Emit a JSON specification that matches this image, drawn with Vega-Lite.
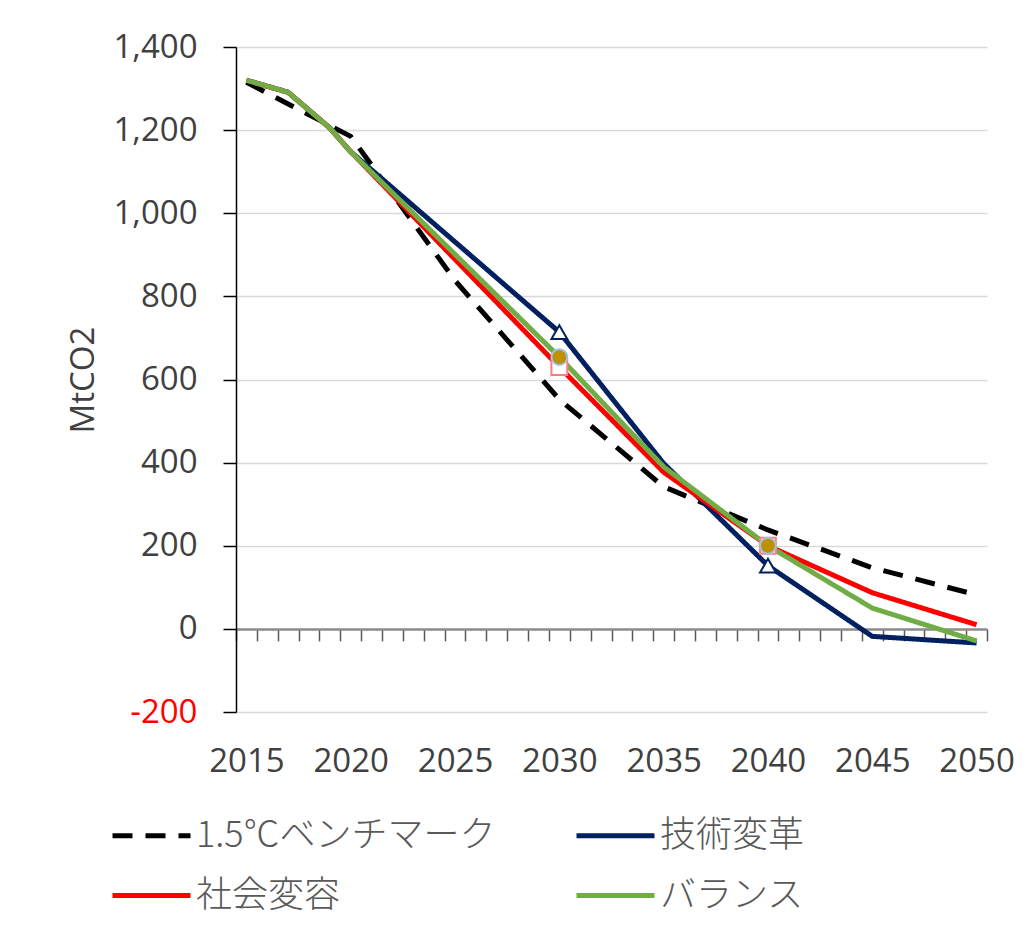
{
  "$schema": "https://vega.github.io/schema/vega-lite/v6.json",
  "width": 751,
  "height": 665,
  "autosize": {"type": "none"},
  "padding": {"left": 236, "top": 47, "right": 45, "bottom": 213},
  "background": "white",
  "config": {
    "view": {"stroke": null},
    "font": "Open Sans",
    "legend": {
      "orient": "none",
      "legendX": -126,
      "legendY": 747,
      "columns": 2,
      "direction": "horizontal",
      "symbolType": "stroke",
      "symbolSize": 6084,
      "symbolStrokeWidth": 5,
      "labelFont": "Noto Sans CJK JP",
      "labelFontWeight": 300,
      "labelFontSize": 36,
      "labelColor": "#595959",
      "labelOffset": 3,
      "labelLimit": 0,
      "rowPadding": -16,
      "columnPadding": 70,
      "padding": 0,
      "title": null
    }
  },
  "data": {
    "values": [
      {"series": "1.5℃ベンチマーク", "year": 2015, "value": 1315},
      {"series": "1.5℃ベンチマーク", "year": 2020, "value": 1185},
      {"series": "1.5℃ベンチマーク", "year": 2025, "value": 838},
      {"series": "1.5℃ベンチマーク", "year": 2030, "value": 552},
      {"series": "1.5℃ベンチマーク", "year": 2035, "value": 342},
      {"series": "1.5℃ベンチマーク", "year": 2040, "value": 238},
      {"series": "1.5℃ベンチマーク", "year": 2045, "value": 147},
      {"series": "1.5℃ベンチマーク", "year": 2050, "value": 82},
      {"series": "技術変革", "year": 2015, "value": 1320},
      {"series": "技術変革", "year": 2017, "value": 1291},
      {"series": "技術変革", "year": 2019, "value": 1205},
      {"series": "技術変革", "year": 2020, "value": 1148},
      {"series": "技術変革", "year": 2030, "value": 714},
      {"series": "技術変革", "year": 2035, "value": 398},
      {"series": "技術変革", "year": 2040, "value": 152},
      {"series": "技術変革", "year": 2045, "value": -18},
      {"series": "技術変革", "year": 2050, "value": -34},
      {"series": "社会変容", "year": 2015, "value": 1320},
      {"series": "社会変容", "year": 2017, "value": 1291},
      {"series": "社会変容", "year": 2019, "value": 1205},
      {"series": "社会変容", "year": 2020, "value": 1148},
      {"series": "社会変容", "year": 2030, "value": 630},
      {"series": "社会変容", "year": 2035, "value": 377},
      {"series": "社会変容", "year": 2040, "value": 200},
      {"series": "社会変容", "year": 2045, "value": 87},
      {"series": "社会変容", "year": 2050, "value": 10},
      {"series": "バランス", "year": 2015, "value": 1320},
      {"series": "バランス", "year": 2017, "value": 1291},
      {"series": "バランス", "year": 2019, "value": 1205},
      {"series": "バランス", "year": 2020, "value": 1148},
      {"series": "バランス", "year": 2030, "value": 654},
      {"series": "バランス", "year": 2035, "value": 390},
      {"series": "バランス", "year": 2040, "value": 200},
      {"series": "バランス", "year": 2045, "value": 50},
      {"series": "バランス", "year": 2050, "value": -29}
    ]
  },
  "resolve": {"axis": {"x": "independent"}},
  "layer": [
    {
      "mark": {"type": "line", "strokeWidth": 5, "strokeJoin": "round"},
      "encoding": {
        "x": {
          "field": "year", "type": "quantitative",
          "scale": {"domain": [2014.5, 2050.5], "nice": false, "zero": false},
          "axis": {
            "title": null,
            "values": [2015, 2020, 2025, 2030, 2035, 2040, 2045, 2050],
            "format": "d",
            "domain": false,
            "ticks": false,
            "tickSize": 0,
            "grid": false,
            "labelFontSize": 33,
            "labelColor": "#404040",
            "labelPadding": 33
          }
        },
        "y": {
          "field": "value", "type": "quantitative",
          "scale": {"domain": [-200, 1400], "nice": false},
          "axis": {
            "title": "MtCO2",
            "values": [-200, 0, 200, 400, 600, 800, 1000, 1200, 1400],
            "labelExpr": "datum.value < 0 ? '-' + format(-datum.value, ',') : format(datum.value, ',')",
            "labelFontSize": 33,
            "labelColor": {"condition": {"test": "datum.value < 0", "value": "#ff0000"}, "value": "#404040"},
            "labelPadding": 26,
            "tickSize": 13,
            "tickColor": "#000000",
            "tickWidth": 1.5,
            "domainColor": "#000000",
            "domainWidth": 1.5,
            "gridColor": "#d9d9d9",
            "gridWidth": 1.5,
            "titleFontSize": 33,
            "titleFontWeight": "normal",
            "titleColor": "#404040",
            "titleX": -153,
            "titleY": 332.5,
            "titleAngle": -90,
            "titleAlign": "center",
            "titleBaseline": "middle"
          }
        },
        "color": {
          "field": "series", "type": "nominal", "title": null,
          "scale": {
            "domain": ["1.5℃ベンチマーク", "技術変革", "社会変容", "バランス"],
            "range": ["#000000", "#002060", "#ff0000", "#70ad47"]
          }
        },
        "strokeDash": {
          "field": "series", "type": "nominal", "title": null,
          "scale": {
            "domain": ["1.5℃ベンチマーク", "技術変革", "社会変容", "バランス"],
            "range": [[20, 13], [1, 0], [1, 0], [1, 0]]
          }
        },
        "order": {"field": "year", "type": "quantitative"}
      }
    },
    {
      "transform": [
        {"filter": "datum.series != '1.5℃ベンチマーク' && (datum.year == 2030 || datum.year == 2040)"}
      ],
      "mark": {"type": "point", "filled": true, "size": 250, "strokeWidth": 2, "opacity": 1},
      "encoding": {
        "x": {
          "field": "year", "type": "quantitative",
          "axis": {
            "title": null,
            "orient": "bottom",
            "offset": -83.125,
            "values": [2014.5, 2015.5, 2016.5, 2017.5, 2018.5, 2019.5, 2020.5, 2021.5, 2022.5, 2023.5, 2024.5, 2025.5, 2026.5, 2027.5, 2028.5, 2029.5, 2030.5, 2031.5, 2032.5, 2033.5, 2034.5, 2035.5, 2036.5, 2037.5, 2038.5, 2039.5, 2040.5, 2041.5, 2042.5, 2043.5, 2044.5, 2045.5, 2046.5, 2047.5, 2048.5, 2049.5, 2050.5],
            "labels": false,
            "grid": false,
            "domain": true,
            "domainColor": "#8c8c8c",
            "domainWidth": 2.5,
            "ticks": true,
            "tickColor": "#595959",
            "tickWidth": 1.5,
            "tickSize": 12
          }
        },
        "y": {"field": "value", "type": "quantitative", "title": "MtCO2"},
        "shape": {
          "field": "series", "type": "nominal", "legend": null,
          "scale": {"domain": ["技術変革", "社会変容", "バランス"], "range": ["triangle-up", "square", "circle"]}
        },
        "fill": {
          "field": "series", "type": "nominal", "legend": null,
          "scale": {"domain": ["技術変革", "社会変容", "バランス"], "range": ["#ffffff", "#ffffff", "#bf9000"]}
        },
        "stroke": {
          "field": "series", "type": "nominal", "legend": null,
          "scale": {"domain": ["技術変革", "社会変容", "バランス"], "range": ["#002060", "#ff7c80", "#9dc3e6"]}
        }
      }
    }
  ]
}
